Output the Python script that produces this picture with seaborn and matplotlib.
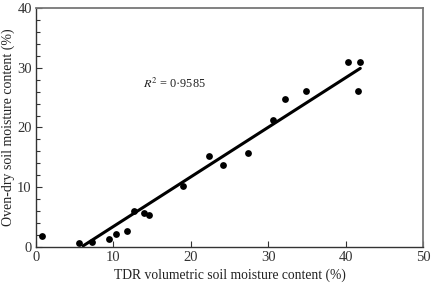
import numpy as np
import pandas as pd
import seaborn as sns
import matplotlib.pyplot as plt
from matplotlib.ticker import MultipleLocator

# measured points (TDR vs oven-dry)
tdr = [0.8, 5.6, 7.3, 9.4, 10.4, 11.8, 12.6, 13.9, 14.6, 19.0,
       22.4, 24.1, 27.4, 30.6, 32.2, 34.9, 40.3, 41.9, 41.6]
oven = [1.8, 0.7, 0.9, 1.3, 2.2, 2.7, 6.1, 5.7, 5.4, 10.2,
        15.3, 13.7, 15.8, 21.2, 24.7, 26.1, 30.9, 31.0, 26.1]

# regression line ends
fit_x = [6.1, 41.9]
fit_y = [0.2, 29.9]

df = pd.DataFrame({"tdr": tdr, "oven": oven})

sns.set_style("ticks")
plt.rcParams['font.family'] = ['Liberation Serif', 'DejaVu Serif']
plt.rcParams['mathtext.fontset'] = 'stix'

fig = plt.figure(figsize=(4.32, 2.85), dpi=100)
ax = fig.add_axes([0.0833, 0.1333, 0.8958, 0.8387])

sns.scatterplot(data=df, x="tdr", y="oven", color="black", s=24, edgecolor="black", linewidth=0, ax=ax)
sns.lineplot(x=fit_x, y=fit_y, color="black", linewidth=2.2, ax=ax)

ax.set_xlim(0, 50)
ax.set_ylim(0, 40)
ax.xaxis.set_major_locator(MultipleLocator(10))
ax.yaxis.set_major_locator(MultipleLocator(10))
ax.yaxis.set_minor_locator(MultipleLocator(2))
ax.tick_params(axis="both", which="both", direction="in", labelsize=10.5, colors="#333333", pad=3)
ax.tick_params(which="major", length=4, width=0.8)
ax.tick_params(which="minor", length=3, width=0.8)

for side in ["left", "bottom"]:
    ax.spines[side].set_color("#333333")
    ax.spines[side].set_linewidth(1.0)
for side in ["top", "right"]:
    ax.spines[side].set_color("#777777")
    ax.spines[side].set_linewidth(1.3)

ax.set_xlabel("TDR volumetric soil moisture content (%)", fontsize=9.8, color="#222222", labelpad=3)
ax.set_ylabel("Oven-dry soil moisture content (%)", fontsize=10, color="#222222", labelpad=1.5)
ax.text(13.8, 27.3, "$R^2$ = 0·9585", fontsize=8.8, va="center", color="#222222")

plt.savefig("out.png", dpi=100)
